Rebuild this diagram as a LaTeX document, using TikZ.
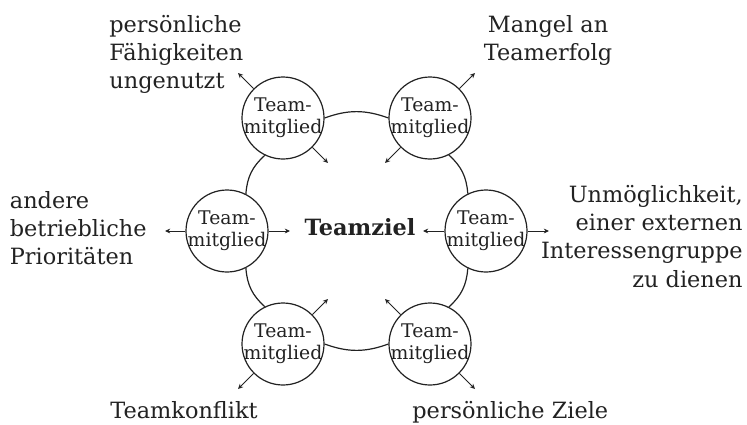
\documentclass[tikz,border=0pt]{standalone}
\usepackage{fontspec}
\setmainfont{DejaVu Serif}
\usetikzlibrary{arrows.meta}
\definecolor{TMink}{RGB}{34,34,34}
\tikzset{
  member/.style={circle,draw=TMink,line width=0.6pt,fill=white,minimum size=41pt,inner sep=-1.5pt,
                 text=TMink,align=center,font=\fontsize{9.4}{10.8}\selectfont},
  goal/.style={text=TMink,inner sep=0pt,font=\fontsize{11.2}{14}\selectfont\bfseries},
  risk/.style={text=TMink,inner sep=0pt,font=\fontsize{11.2}{14.1}\selectfont},
  fl/.style={-{Stealth[length=2.6pt,width=2.4pt]},line width=0.5pt,draw=TMink},
  link/.style={line width=0.6pt,draw=TMink},
}

\begin{document}
\begin{tikzpicture}[x=0.5pt,y=0.5pt]
    \useasboundingbox (0,0) rectangle (747,424);
    \node[member] (tl) at (283,306) {Team-\\mitglied};
    \node[member] (tr) at (430,306) {Team-\\mitglied};
    \node[member] (l) at (227,193) {Team-\\mitglied};
    \node[member] (r) at (486,193) {Team-\\mitglied};
    \node[member] (bl) at (283,80) {Team-\\mitglied};
    \node[member] (br) at (430,80) {Team-\\mitglied};
    \node[goal,anchor=base] (goal) at (360,189) {Teamziel};
    \node[risk,anchor=north west,align=left] (skills) at (109,409) {persönliche\\Fähigkeiten\\ungenutzt};
    \node[risk,anchor=north,align=center] (success) at (548,409) {Mangel an\\Teamerfolg};
    \node[risk,anchor=north east,align=right] (external) at (743,239) {Unmöglichkeit,\\einer externen\\Interessengruppe\\zu dienen};
    \node[risk,anchor=north west,align=left] (priorities) at (9.5,233) {andere\\betriebliche\\Prioritäten};
    \node[risk,anchor=base west] (conflict) at (110,6) {Teamkonflikt};
    \node[risk,anchor=base west] (aims) at (412,6) {persönliche Ziele};
    \coordinate (tl-out) at (238,351);
    \coordinate (tl-in) at (328,261);
    \coordinate (tr-out) at (475,351);
    \coordinate (tr-in) at (385,261);
    \coordinate (l-out) at (165,193);
    \coordinate (l-in) at (290,193);
    \coordinate (r-out) at (549,193);
    \coordinate (r-in) at (423,193);
    \coordinate (bl-out) at (238,35);
    \coordinate (bl-in) at (328,125);
    \coordinate (br-out) at (475,35);
    \coordinate (br-in) at (385,125);
    \draw[link] (tl.0) to[bend left=20] (tr.180);
    \draw[link] (tr.-63.6) to[bend left=22] (r.116.4);
    \draw[link] (r.-116.4) to[bend left=22] (br.63.6);
    \draw[link] (br.180) to[bend left=20] (bl.0);
    \draw[link] (bl.116.4) to[bend left=22] (l.-63.6);
    \draw[link] (l.63.6) to[bend left=22] (tl.-116.4);
    \draw[fl] (tl) -- (tl-out);
    \draw[fl] (tl) -- (tl-in);
    \draw[fl] (tr) -- (tr-out);
    \draw[fl] (tr) -- (tr-in);
    \draw[fl] (l) -- (l-out);
    \draw[fl] (l) -- (l-in);
    \draw[fl] (r) -- (r-out);
    \draw[fl] (r) -- (r-in);
    \draw[fl] (bl) -- (bl-out);
    \draw[fl] (bl) -- (bl-in);
    \draw[fl] (br) -- (br-out);
    \draw[fl] (br) -- (br-in);
\end{tikzpicture}
\end{document}
